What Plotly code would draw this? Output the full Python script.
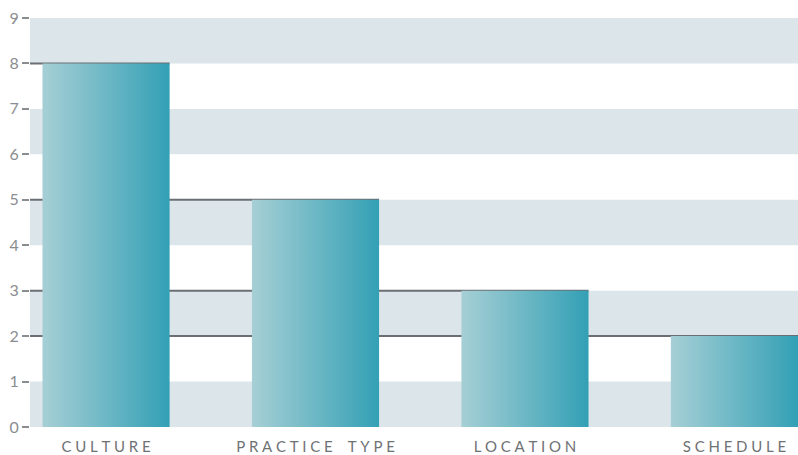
import plotly.graph_objects as go

categories = ["CULTURE", "PRACTICE TYPE", "LOCATION", "SCHEDULE"]
values = [8, 5, 3, 2]
y_ticks = list(range(0, 10))

BAR_W = 0.607
X_RANGE = [-0.363, 3.3035]
Y_RANGE = [0, 9]

def spaced(s):
    return "\u2005".join(list(s)).replace("\u2005 \u2005", "\u2005\u2005\u2005\u2005")

fig = go.Figure()

# leader lines from axis to each bar's right edge (behind bars)
for i, v in enumerate(values):
    fig.add_trace(go.Scatter(
        x=[X_RANGE[0], i + BAR_W / 2], y=[v, v], mode="lines",
        line=dict(color="#6b6f73", width=2), hoverinfo="skip", showlegend=False))

# gradient bars
for i, v in enumerate(values):
    x0, x1 = i - BAR_W / 2, i + BAR_W / 2
    fig.add_trace(go.Scatter(
        x=[x0, x1, x1, x0, x0], y=[0, 0, v, v, 0], mode="lines",
        line=dict(width=0), fill="toself",
        fillgradient=dict(type="horizontal",
                          colorscale=[[0, "#a6cfd5"], [1, "#33a0b5"]]),
        hoverinfo="skip", showlegend=False))

shapes = []
for k in range(0, 9, 2):
    shapes.append(dict(type="rect", xref="paper", yref="y", x0=0, x1=1,
                       y0=k, y1=k + 1, fillcolor="#dce6ea", line=dict(width=0),
                       layer="below"))

fig.update_layout(
    width=798, height=455,
    margin=dict(l=30, r=0, t=18, b=28),
    paper_bgcolor="white", plot_bgcolor="white",
    shapes=shapes,
    font=dict(family="Lato", color="#7a7d80", size=14),
    xaxis=dict(range=X_RANGE, tickvals=list(range(len(categories))),
               ticktext=[spaced(c) for c in categories],
               showgrid=False, zeroline=False, showline=False, ticks="",
               ticklabelstandoff=9,
               tickfont=dict(family="Lato", size=15, color="#6f7275")),
    yaxis=dict(range=Y_RANGE, tickvals=y_ticks, showgrid=False, zeroline=False,
               showline=False, ticks="outside", ticklen=7, tickwidth=1.5,
               tickcolor="#8a8d90",
               tickfont=dict(family="Lato", size=16, color="#8a8d90")),
)

fig.write_html("out.html")
